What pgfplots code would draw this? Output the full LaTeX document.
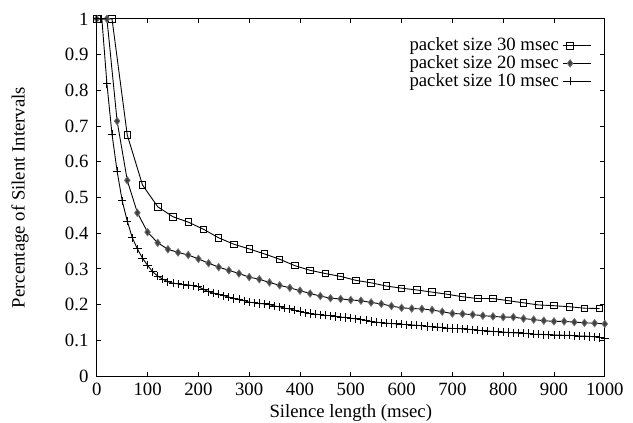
\documentclass[border=0pt]{standalone}
\usepackage{fontspec}
\setmainfont{Liberation Serif}
\usepackage{pgfplots}
\pgfplotsset{compat=1.18}
\begin{document}
\fontsize{10.5}{12.5}\selectfont
\begin{tikzpicture}
\useasboundingbox (-54.2pt,-26.3pt) rectangle (300.3pt,210.6pt);
\begin{axis}[
  width=284.5pt, height=200pt, scale only axis,
  xmin=0, xmax=1000, ymin=0, ymax=1,
  xtick={0,100,...,1000},
  ytick={0,0.1,0.2,0.3,0.4,0.5,0.6,0.7,0.8,0.9,1},
  /pgf/number format/assume math mode=true,
  /pgf/number format/set thousands separator={},
  yticklabel style={/pgf/number format/fixed,/pgf/number format/precision=1, xshift=-1pt},
  tick label style={font=\fontsize{10.5}{12.5}\selectfont},
  label style={font=\fontsize{10.5}{12.5}\selectfont},
  tick align=inside, major tick length=2.5pt,
  axis line style={line width=0.6pt},
  every tick/.style={black, line width=0.5pt},
  xlabel={Silence length (msec)},
  ylabel={Percentage of Silent Intervals},
  xlabel style={at={(axis description cs:0.5,-0.104)}, anchor=center},
  ylabel style={at={(axis description cs:-0.151,0.5)}, anchor=center},
  legend style={at={(0.985,0.968)}, anchor=north east, draw=none, fill=none,
    font=\fontsize{10.5}{12.5}\selectfont, row sep=-3pt},
  legend cell align=right,
  legend plot pos=right,
  legend image code/.code={
    \draw[#1, mark indices={2}] plot coordinates {(0pt,0pt) (4pt,0pt) (15.7pt,0pt)};
  },
]
\addplot[black, line width=0.5pt, mark=square, mark size=1.8pt, mark options={line width=0.5pt}] coordinates {
(0,1.0) (30,1.0) (60,0.675) (90,0.535) (120,0.474) (150,0.446) (180,0.431)
(210,0.411) (240,0.387) (270,0.369) (300,0.356) (330,0.342) (360,0.327)
(390,0.309) (420,0.296) (450,0.287) (480,0.279) (510,0.268) (540,0.261)
(570,0.252) (600,0.246) (630,0.241) (660,0.235) (690,0.229) (720,0.222)
(750,0.217) (780,0.217) (810,0.211) (840,0.205) (870,0.199) (900,0.197)
(930,0.194) (960,0.190) (990,0.189)
};
\addlegendentry{packet size 30 msec}
\addplot[black, line width=0.5pt, mark=diamond*, mark size=2.1pt, mark options={fill=black!75, draw=black!55, line width=0.4pt}] coordinates {
(0,1.0) (20,1.0) (40,0.714) (60,0.548) (80,0.457) (100,0.403) (120,0.373)
(140,0.355) (160,0.346) (180,0.339) (200,0.328) (220,0.316) (240,0.305)
(260,0.296) (280,0.287) (300,0.277) (320,0.271) (340,0.262) (360,0.254)
(380,0.247) (400,0.239) (420,0.231) (440,0.224) (460,0.218) (480,0.216)
(500,0.213) (520,0.211) (540,0.206) (560,0.202) (580,0.196) (600,0.191)
(620,0.189) (640,0.188) (660,0.185) (680,0.180) (700,0.175) (720,0.174)
(740,0.172) (760,0.169) (780,0.167) (800,0.165) (820,0.165) (840,0.161)
(860,0.158) (880,0.155) (900,0.153) (920,0.153) (940,0.151) (960,0.149)
(980,0.148) (1000,0.146)
};
\addlegendentry{packet size 20 msec}
\addplot[black, line width=0.5pt, mark=+, mark size=2.3pt, mark options={line width=0.5pt}] coordinates {
(0,1.0) (10,1.0) (20,0.818) (30,0.677) (40,0.574) (50,0.491) (60,0.434)
(70,0.387) (80,0.356) (90,0.330) (100,0.310) (110,0.292) (120,0.280)
(130,0.271) (140,0.264) (150,0.260) (160,0.258) (170,0.256) (180,0.255)
(190,0.253) (200,0.250) (210,0.243) (220,0.236) (230,0.232) (240,0.229)
(250,0.225) (260,0.221) (270,0.217) (280,0.215) (290,0.211) (300,0.207)
(310,0.205) (320,0.203) (330,0.202) (340,0.200) (350,0.196) (360,0.194)
(370,0.190) (380,0.188) (390,0.184) (400,0.181) (410,0.177) (420,0.175)
(430,0.173) (440,0.172) (450,0.170) (460,0.169) (470,0.167) (480,0.165)
(490,0.164) (500,0.162) (510,0.160) (520,0.158) (530,0.156) (540,0.153)
(550,0.151) (560,0.149) (570,0.148) (580,0.147) (590,0.146) (600,0.145)
(610,0.144) (620,0.143) (630,0.142) (640,0.141) (650,0.139) (660,0.138)
(670,0.137) (680,0.136) (690,0.134) (700,0.133) (710,0.133) (720,0.132)
(730,0.131) (740,0.130) (750,0.128) (760,0.127) (770,0.126) (780,0.125)
(790,0.124) (800,0.123) (810,0.122) (820,0.121) (830,0.121) (840,0.120)
(850,0.119) (860,0.117) (870,0.117) (880,0.116) (890,0.116) (900,0.115)
(910,0.115) (920,0.114) (930,0.114) (940,0.113) (950,0.112) (960,0.112)
(970,0.111) (980,0.110) (990,0.108) (1000,0.106)
};
\addlegendentry{packet size 10 msec}
\end{axis}
\end{tikzpicture}
\end{document}
